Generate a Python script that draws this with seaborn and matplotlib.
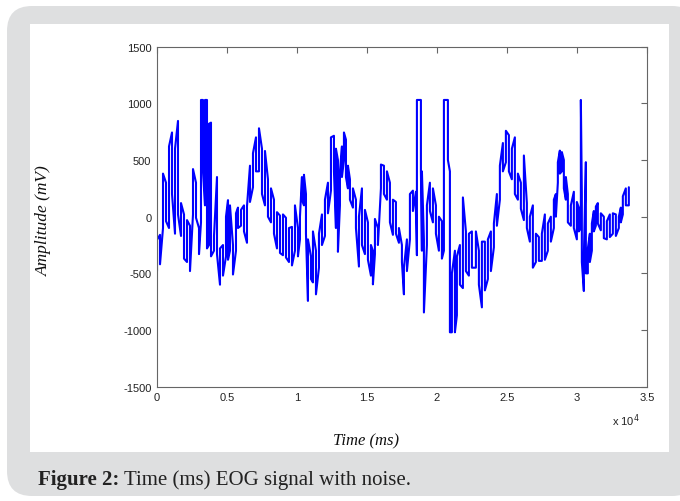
import pandas as pd
import seaborn as sns
import matplotlib.pyplot as plt
from matplotlib.patches import FancyBboxPatch

# EOG trace read off the figure: for every sampled column the signal's
# low / high value, and whether the pen goes up (U) or down (D) there
time_ms = [0, 214, 428, 643, 857, 1071, 1285, 1499, 1714, 1928,
           2142, 2356, 2570, 2785, 2999, 3141, 3284, 3427, 3570, 3713,
           3856, 4070, 4284, 4498, 4712, 4927, 5070, 5212, 5426, 5641,
           5783, 5998, 6212, 6426, 6640, 6854, 7069, 7283, 7497, 7711,
           7925, 8140, 8354, 8568, 8782, 8996, 9211, 9425, 9639, 9853,
           10067, 10210, 10353, 10496, 10639, 10781, 10996, 11138, 11353, 11567,
           11781, 11995, 12209, 12424, 12638, 12780, 12923, 13066, 13209, 13352,
           13495, 13637, 13780, 13994, 14209, 14423, 14637, 14851, 15065, 15280,
           15422, 15565, 15779, 15994, 16208, 16422, 16636, 16850, 17065, 17279,
           17493, 17636, 17850, 18064, 18278, 18493, 18564, 18850, 18921, 19064,
           19278, 19492, 19707, 19921, 20135, 20349, 20492, 20778, 20921, 21063,
           21278, 21420, 21635, 21849, 22063, 22277, 22491, 22777, 22991, 23205,
           23419, 23634, 23848, 24062, 24276, 24490, 24705, 24919, 25133, 25347,
           25561, 25776, 25990, 26204, 26418, 26632, 26846, 27061, 27275, 27489,
           27703, 27917, 28132, 28346, 28489, 28631, 28774, 28917, 29060, 29203,
           29346, 29560, 29774, 29988, 30131, 30274, 30345, 30488, 30631, 30774,
           30917, 31060, 31202, 31345, 31488, 31702, 31916, 32131, 32345, 32559,
           32773, 32987, 33130, 33273, 33487, 33701]

amp_low = [-480, -420, -100, -40, -100, 200, -150, 20, -170, -370,
           -400, -480, 20, -10, -330, -50, 400, 100, -280, -250,
           -350, -300, -330, -600, -520, -350, -380, -300, -510, -300,
           -100, -80, -130, -230, 130, 260, 400, 400, 200, 100,
           0, -50, -150, -280, -320, -340, -360, -400, -430, -300,
           -350, -200, 150, 100, -150, -743, -550, -580, -685, -450,
           -250, -170, 30, 230, 400, -100, -310, 100, 350, 500,
           350, 250, 150, 80, -100, -440, -250, -330, -380, -520,
           -597, -330, -250, 250, 200, 150, -50, -160, -150, -230,
           -400, -685, -480, -200, 50, 50, -340, 400, -300, -845,
           -250, 50, -50, -150, -300, -370, -300, 500, -1020, -1020,
           -1020, -870, -600, -630, -480, -520, -450, -450, -600, -800,
           -650, -550, -480, -270, -80, 150, 400, 480, 400, 330,
           200, 150, 70, -30, -100, -220, -450, -400, -390, -390,
           -380, -300, -220, -100, 0, 300, 380, 400, 250, 150,
           -50, -80, -100, -200, -130, -100, -400, -656, -500, -500,
           -400, -300, -130, -80, -60, -120, -190, -200, -180, -150,
           -170, -100, -50, 20, 100, 100]

amp_high = [-204, -160, 380, 300, 620, 743, 600, 845, 120, 20,
            -30, -80, 420, 300, -100, 1030, 1030, 1030, 1030, 820,
            830, -170, 350, -280, -250, 0, 146, 100, -250, 30,
            80, 60, 100, 90, 450, 560, 700, 780, 600, 580,
            330, 250, 150, 40, 10, 20, -10, -100, -90, 100,
            -100, 0, 350, 370, 200, -200, -350, -130, -300, -150,
            20, 150, 300, 700, 714, 600, 500, 400, 620, 743,
            680, 450, 330, 250, 150, 0, 250, 60, -50, -250,
            -300, -20, -100, 460, 450, 400, 300, 150, 130, -100,
            -250, -450, -200, 200, 230, 220, 1030, 1030, 400, -200,
            100, 300, 250, 100, 0, -40, 1030, 1030, 400, -500,
            -300, -350, -250, 170, -130, -150, -130, -130, -300, -220,
            -220, -200, -130, -60, 200, 450, 650, 758, 720, 600,
            700, 380, 300, 540, 120, 0, 100, -150, -180, -150,
            20, -60, 0, 150, 200, 480, 583, 570, 500, 350,
            200, 100, 220, 130, 80, 1030, 200, -350, 481, -280,
            -150, -60, 50, 90, 120, 30, 0, -40, 20, 30,
            20, 0, 80, 180, 250, 260]

stroke_dir = ("UDUDUDUDUD" "UDUDDUDUDU"
              "DUDUDUDUDU" "DUDUDUDUDU" "DUDUDUDUDU" "DUDUDUDUDU"
              "DUDUDUDUDU" "DUDUDUDUDU" "DUDUDUDUDU"
              "DUDUDDUDUD" "UDUDUDUDDU"
              "DUDUDUDUDU" "DUDUDUDUDU" "DUDUDUDUDU" "DUDUDUDUDU"
              "DUDUDUDUDU" "DUDUDUDUDU" "DUDUDU")

x_ticks = [0, 5000, 10000, 15000, 20000, 25000, 30000, 35000]
x_tick_labels = ['0', '0.5', '1', '1.5', '2', '2.5', '3', '3.5']
y_ticks = [-1500, -1000, -500, 0, 500, 1000, 1500]

# turn the columns into one polyline (vertical stroke per column)
path_t, path_amp = [], []
for t, lo, hi, d in zip(time_ms, amp_low, amp_high, stroke_dir):
    path_t += [t, t]
    path_amp += [lo, hi] if d == 'U' else [hi, lo]
eog = pd.DataFrame({'Time': path_t, 'Amplitude': path_amp})

sns.set_theme(style="white")
plt.rcParams['font.family'] = ['Liberation Sans', 'DejaVu Sans']
plt.rcParams['axes.unicode_minus'] = False

fig = plt.figure(figsize=(6.8, 5.02), dpi=100, facecolor='white')

# grey card with white panel behind the plot
card = FancyBboxPatch((0.07, 0.05), 6.9, 4.9, boxstyle='round,pad=0,rounding_size=0.25',
                      transform=fig.dpi_scale_trans, facecolor='#dedfe0', edgecolor='none', zorder=-2)
panel = FancyBboxPatch((0.30, 0.49), 6.39, 4.28, boxstyle='square,pad=0',
                       transform=fig.dpi_scale_trans, facecolor='white', edgecolor='none', zorder=-1)
fig.add_artist(card)
fig.add_artist(panel)

ax = fig.add_axes([0.2309, 0.2277, 0.7206, 0.6773])
sns.lineplot(data=eog, x='Time', y='Amplitude', sort=False, estimator=None,
             color='#0000ff', linewidth=1.5, ax=ax)

ax.set_xlim(0, 35000)
ax.set_ylim(-1500, 1500)
ax.set_xticks(x_ticks)
ax.set_xticklabels(x_tick_labels)
ax.set_yticks(y_ticks)
ax.tick_params(direction='in', top=True, right=True, length=4, width=0.8,
               color='#666666', labelcolor='#222222', labelsize=8, pad=4)
for side in ax.spines.values():
    side.set_visible(True)
    side.set_color('#666666')
    side.set_linewidth(0.8)

ax.set_xlabel('Time (ms)', fontsize=12, fontstyle='italic', family='Liberation Serif', color='#111111')
ax.set_ylabel('Amplitude (mV)', fontsize=12.5, fontstyle='italic', family='Liberation Serif', color='#111111')
ax.xaxis.set_label_coords(0.427, -0.135)
ax.yaxis.set_label_coords(-0.214, 0.49)

fig.text(0.9, 0.153, r'x 10$^4$', fontsize=8, color='#222222')

# caption: bold lead-in then plain text
cap1 = fig.text(0.056, 0.044, 'Figure 2:', fontsize=15, fontweight='bold',
                family='Liberation Serif', color='#222222', va='center')
fig.canvas.draw()
bb = cap1.get_window_extent()
fig.text(bb.x1 / fig.bbox.width + 0.006, 0.044, 'Time (ms) EOG signal with noise.', fontsize=15,
         family='Liberation Serif', color='#222222', va='center')

plt.savefig('out.png', dpi=100, facecolor='white')
